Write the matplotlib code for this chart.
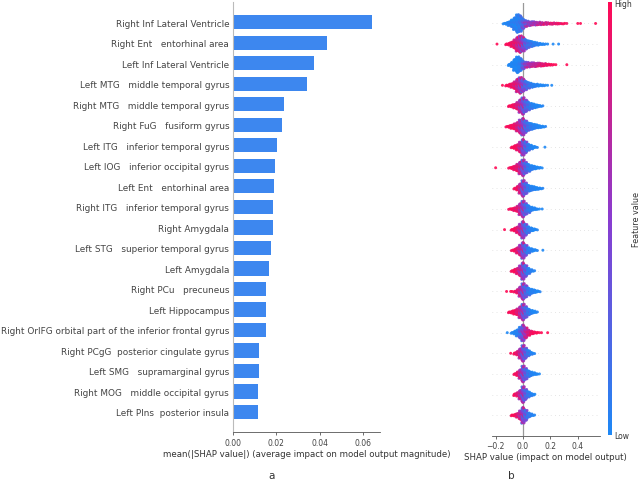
import numpy as np
import matplotlib
matplotlib.use("Agg")
import matplotlib.pyplot as plt
from matplotlib.colors import LinearSegmentedColormap
from matplotlib.cm import ScalarMappable

# features, top to bottom
features = [
    "Right Inf Lateral Ventricle",
    "Right Ent   entorhinal area",
    "Left Inf Lateral Ventricle",
    "Left MTG   middle temporal gyrus",
    "Right MTG   middle temporal gyrus",
    "Right FuG   fusiform gyrus",
    "Left ITG   inferior temporal gyrus",
    "Left IOG   inferior occipital gyrus",
    "Left Ent   entorhinal area",
    "Right ITG   inferior temporal gyrus",
    "Right Amygdala",
    "Left STG   superior temporal gyrus",
    "Left Amygdala",
    "Right PCu   precuneus",
    "Left Hippocampus",
    "Right OrIFG orbital part of the inferior frontal gyrus",
    "Right PCgG  posterior cingulate gyrus",
    "Left SMG   supramarginal gyrus",
    "Right MOG   middle occipital gyrus",
    "Left PIns  posterior insula",
]

# panel a: mean(|SHAP value|)
mean_abs_shap = [0.0640, 0.0435, 0.0375, 0.0343, 0.0236, 0.0227, 0.0203, 0.0195,
                 0.0191, 0.0186, 0.0183, 0.0174, 0.0167, 0.0155, 0.0155, 0.0151,
                 0.0121, 0.0121, 0.0118, 0.0118]

# panel b: SHAP values read as 0.02-wide bins (first bin centre, dots per bin,
# mean feature value per bin 0=low 1=high) plus single outlying dots
swarm_start = [-0.14, -0.12, -0.10, -0.12, -0.10, -0.12, -0.08, -0.10, -0.06, -0.10,
               -0.08, -0.08, -0.08, -0.06, -0.10, -0.08, -0.06, -0.06, -0.06, -0.08]
swarm_counts = [
    [2, 5, 10, 18, 30, 45, 40, 25, 16, 12, 10, 9, 8, 7, 6, 5, 5, 4, 4, 3, 3, 2, 2, 1],
    [3, 6, 12, 22, 35, 42, 35, 25, 18, 14, 10, 7, 5, 3, 2, 1],
    [4, 12, 28, 40, 32, 20, 14, 12, 11, 10, 9, 8, 7, 6, 4, 3, 2],
    [3, 6, 10, 18, 32, 40, 32, 22, 15, 11, 8, 6, 4, 3, 2],
    [3, 6, 10, 18, 32, 42, 30, 20, 14, 10, 7, 4, 2],
    [2, 5, 9, 14, 22, 34, 42, 30, 20, 16, 12, 9, 6, 4, 2],
    [3, 8, 14, 26, 40, 28, 16, 10, 5, 2],
    [2, 5, 10, 18, 30, 40, 28, 18, 12, 8, 5, 3, 1],
    [3, 10, 24, 40, 28, 16, 12, 9, 6, 4, 2],
    [2, 4, 8, 14, 28, 40, 28, 18, 10, 6, 3, 1],
    [3, 8, 15, 28, 42, 28, 16, 9, 5, 2],
    [2, 6, 14, 26, 40, 26, 14, 8, 4, 2],
    [3, 8, 14, 26, 42, 28, 14, 6, 2],
    [3, 10, 24, 40, 30, 18, 12, 8, 4, 2],
    [3, 6, 10, 16, 28, 40, 28, 16, 9, 5, 2],
    [3, 8, 16, 28, 40, 26, 14, 8, 5, 3],
    [4, 10, 24, 40, 26, 14, 6, 2],
    [3, 10, 22, 40, 28, 16, 10, 6, 3, 1],
    [5, 10, 22, 40, 26, 14, 7, 3],
    [3, 5, 10, 22, 40, 26, 12, 6, 2],
]
swarm_feat = [
    [0, 0, 0.05, 0.05, 0.05, 0.05, 0.1, 0.3, 0.5, 0.55, 0.6, 0.65, 0.7, 0.75, 0.8, 0.85,
     0.85, 0.9, 0.9, 0.9, 0.95, 0.95, 1, 1],
    [1, 1, 0.95, 0.9, 0.8, 0.7, 0.5, 0.3, 0.2, 0.15, 0.1, 0.05, 0.05, 0, 0, 0],
    [0, 0, 0, 0, 0.05, 0.3, 0.55, 0.65, 0.7, 0.75, 0.8, 0.85, 0.9, 0.9, 0.95, 1, 1],
    [1, 1, 0.95, 0.9, 0.8, 0.65, 0.45, 0.3, 0.2, 0.1, 0.05, 0.05, 0, 0, 0],
    [1, 1, 0.95, 0.85, 0.7, 0.5, 0.3, 0.2, 0.1, 0.05, 0, 0, 0],
    [1, 1, 1, 0.95, 0.85, 0.7, 0.5, 0.3, 0.2, 0.1, 0.05, 0.05, 0, 0, 0],
    [1, 1, 0.95, 0.8, 0.5, 0.3, 0.15, 0.05, 0, 0],
    [1, 1, 0.95, 0.9, 0.75, 0.5, 0.3, 0.15, 0.05, 0.05, 0, 0, 0],
    [1, 0.95, 0.8, 0.5, 0.3, 0.15, 0.05, 0.05, 0, 0, 0],
    [1, 1, 0.95, 0.9, 0.75, 0.5, 0.3, 0.15, 0.05, 0, 0, 0],
    [1, 1, 0.9, 0.75, 0.5, 0.3, 0.15, 0.05, 0, 0],
    [1, 1, 0.9, 0.75, 0.5, 0.3, 0.1, 0.05, 0, 0],
    [1, 1, 0.9, 0.75, 0.5, 0.3, 0.1, 0.05, 0],
    [1, 0.9, 0.75, 0.5, 0.3, 0.15, 0.05, 0.05, 0, 0],
    [1, 1, 1, 0.9, 0.75, 0.5, 0.3, 0.15, 0.05, 0, 0],
    [0, 0, 0.05, 0.2, 0.45, 0.7, 0.85, 0.95, 1, 1],
    [1, 0.9, 0.75, 0.5, 0.3, 0.15, 0.05, 0],
    [1, 0.95, 0.75, 0.5, 0.3, 0.15, 0.05, 0, 0, 0],
    [1, 0.9, 0.75, 0.5, 0.3, 0.15, 0.05, 0],
    [1, 1, 0.9, 0.75, 0.5, 0.3, 0.15, 0.05, 0],
]
outlier_x = [[0.40, 0.42, 0.53], [-0.19, 0.22, 0.26], [0.24, 0.32], [-0.15, 0.18, 0.21],
             [], [], [0.16], [-0.20], [], [0.14], [-0.135], [0.145], [],
             [-0.12, -0.09, -0.08], [], [-0.115, 0.12, 0.135, 0.18], [-0.09], [], [], []]
outlier_feat = [[1, 1, 1], [1, 0, 0], [1, 1], [1, 0, 0],
                [], [], [0], [1], [], [0], [1], [0], [],
                [1, 1, 1], [], [0, 1, 1, 1], [1], [], [], []]

red_blue = LinearSegmentedColormap.from_list("red_blue", ["#1e88f5", "#8a3cd0", "#ff0a55"])
bar_color = "#3d87ef"
n = len(features)
ypos = np.arange(n)[::-1]

fig = plt.figure(figsize=(6.4, 4.81), dpi=100)

# ---- a: bar plot
ax1 = fig.add_axes([0.3636, 0.0988, 0.2302, 0.8956])
ax1.barh(ypos, mean_abs_shap, height=0.7, color=bar_color)
ax1.set_ylim(-1, n)
ax1.set_xlim(0, 0.0677)
ax1.set_yticks(ypos)
ax1.set_yticklabels(features, fontsize=6.4, color="#444444")
ax1.tick_params(axis="y", length=0, pad=2.5)
ax1.set_xticks([0, 0.02, 0.04, 0.06])
ax1.set_xticklabels(["0.00", "0.02", "0.04", "0.06"])
ax1.tick_params(axis="x", labelsize=5.5, length=2.5, width=0.6, pad=1.5,
                color="#555555", labelcolor="#444444")
for s in ["top", "right"]:
    ax1.spines[s].set_visible(False)
ax1.spines["left"].set_color("#bbbbbb")
ax1.spines["bottom"].set_color("#555555")
ax1.spines["left"].set_linewidth(0.8)
ax1.spines["bottom"].set_linewidth(0.6)
ax1.set_xlabel("mean(|SHAP value|) (average impact on model output magnitude)",
               fontsize=6.2, color="#333333", labelpad=1.5)

# ---- b: beeswarm
ax2 = fig.add_axes([0.768, 0.092, 0.169, 0.900])
golden = 0.6180339887
for r in range(n):
    y0 = ypos[r]
    xs, ys, cs = [], [], []
    for b, cnt in enumerate(swarm_counts[r]):
        xc = swarm_start[r] + 0.02 * b
        h = 0.44 * cnt / 45.0
        mix = 0.55 * (1 - abs(2 * swarm_feat[r][b] - 1)) + 0.12
        for i in range(cnt):
            xs.append(xc - 0.01 + (i + 0.5) * 0.02 / cnt)
            ys.append(y0 + h * (2 * ((i * golden + 0.5 * b) % 1.0) - 1))
            cs.append(np.clip(swarm_feat[r][b] + mix * (((i * 0.7548777) % 1.0) - 0.5), 0, 1))
    xs += outlier_x[r]
    ys += [y0] * len(outlier_x[r])
    cs += outlier_feat[r]
    ax2.axhline(y0, color="#cccccc", lw=0.5, dashes=(1, 5), zorder=-1)
    ax2.scatter(xs, ys, c=cs, cmap=red_blue, vmin=0, vmax=1, s=4.5,
                linewidths=0, alpha=0.9, zorder=3)
ax2.axvline(0, color="#999999", lw=0.9, zorder=-1)
ax2.set_ylim(-1, n)
ax2.set_xlim(-0.23, 0.56)
ax2.set_yticks([])
ax2.set_xticks([-0.2, 0.0, 0.2, 0.4])
ax2.set_xticklabels(["\u22120.2", "0.0", "0.2", "0.4"])
ax2.tick_params(axis="x", labelsize=5.5, length=2.5, width=0.6, pad=1.5,
                color="#555555", labelcolor="#444444")
for s in ["top", "right", "left"]:
    ax2.spines[s].set_visible(False)
ax2.spines["bottom"].set_color("#555555")
ax2.spines["bottom"].set_linewidth(0.6)
ax2.set_xlabel("SHAP value (impact on model output)", fontsize=6.2,
               color="#333333", labelpad=1.5)

# colour bar
cax = fig.add_axes([0.9495, 0.0942, 0.0063, 0.8988])
sm = ScalarMappable(cmap=red_blue)
sm.set_array([])
cb = fig.colorbar(sm, cax=cax, ticks=[0, 1])
cb.set_ticklabels(["Low", "High"])
cb.outline.set_visible(False)
cax.tick_params(length=0, labelsize=5.5, pad=2, labelcolor="#333333")
cb.set_label("Feature value", fontsize=5.8, color="#333333", labelpad=0)

fig.text(272 / 640, 1 - 476 / 481, "a", fontsize=7.5, color="#333333",
         ha="center", va="center")
fig.text(511 / 640, 1 - 476 / 481, "b", fontsize=7.5, color="#333333",
         ha="center", va="center")

fig.savefig("out.png", dpi=100, facecolor="white")
